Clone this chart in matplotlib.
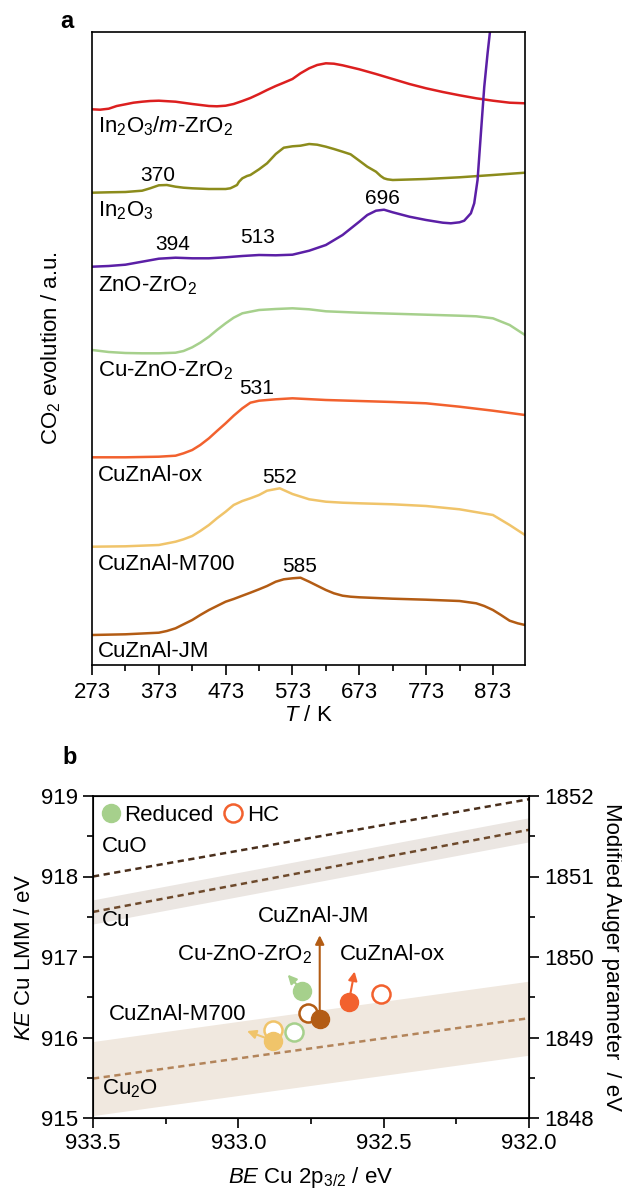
import matplotlib
matplotlib.use("Agg")
from matplotlib import pyplot as plt
from matplotlib.lines import Line2D
from matplotlib.ticker import MultipleLocator, FormatStrFormatter

plt.rcParams['font.family'] = ['Liberation Sans', 'DejaVu Sans']
plt.rcParams['mathtext.fontset'] = 'custom'
plt.rcParams['mathtext.rm'] = 'Liberation Sans'
plt.rcParams['mathtext.it'] = 'Liberation Sans:italic'
plt.rcParams['mathtext.bf'] = 'Liberation Sans:bold'
plt.rcParams['font.size'] = 16

# ---- panel a : CO2-TPD traces (T in K, signal in a.u., offset already included) ----
T_red = [273, 285, 298, 310, 323, 335, 348, 360, 373, 398, 423, 448, 460, 473, 485, 498, 510,
         523, 535, 548, 560, 573, 585, 598, 610, 623, 635, 648, 673, 698, 723, 748, 773, 798,
         823, 848, 873, 898, 921]
y_red = [555.7, 555.3, 556.3, 559, 560.7, 562.3, 563.3, 564, 564.3, 563.3, 561, 559, 558.7,
         559.3, 561, 564, 567, 571, 575, 579, 582.3, 586, 591.7, 596.7, 600, 601.7, 601.3,
         599.7, 595.7, 591, 586, 581, 576.7, 573, 569.7, 566.7, 564.3, 562.3, 561.7]

T_in = [273, 298, 323, 348, 360, 373, 385, 398, 410, 423, 448, 473, 480, 485, 490, 493, 498,
        505, 510, 523, 535, 548, 560, 573, 585, 598, 610, 623, 635, 648, 660, 673, 685, 698,
        705, 710, 715, 723, 773, 823, 873, 921]
y_in = [472.3, 472.7, 473, 474.3, 476.7, 479.7, 480, 478.3, 477.3, 476.7, 476, 476, 476.7,
        478.3, 480, 483.3, 486.7, 489, 490, 495.7, 501.7, 511, 517.3, 518.7, 519.3, 521, 520.3,
        518.3, 516, 513.3, 510.7, 504.3, 498.3, 493.3, 489, 486.7, 485.7, 485, 486, 487.7,
        490, 492.3]

T_zn = [273, 298, 323, 348, 373, 398, 423, 448, 473, 498, 523, 548, 573, 598, 623, 648, 673,
        685, 698, 710, 723, 748, 773, 798, 810, 823, 830, 840, 845, 850, 855, 860, 865, 870, 878]
y_zn = [398.3, 399, 400.3, 403.3, 406.3, 407.3, 406.7, 406.7, 407.7, 409, 410, 409.7, 410.3,
        414.3, 420, 430, 443.3, 450, 454.3, 455.3, 452.7, 448.3, 445, 442.3, 441.7, 442.7,
        444.3, 451.7, 461.7, 485, 531.7, 578, 611.7, 641.7, 720]

T_czz = [273, 298, 323, 348, 373, 398, 410, 423, 435, 448, 460, 473, 485, 498, 510, 523, 548,
         573, 598, 623, 673, 723, 773, 823, 848, 873, 898, 921]
y_czz = [315, 313, 312, 311.7, 311.7, 312.3, 314, 317.7, 322.3, 328.3, 335, 341.7, 347.3, 351.7,
         353.3, 355, 356, 356.7, 355.7, 353.7, 352.3, 351.3, 350.3, 349.3, 348.7, 346.7, 340, 330]

T_ox = [273, 323, 373, 398, 410, 423, 435, 448, 460, 473, 485, 498, 510, 523, 548, 573, 623,
        673, 723, 773, 823, 873, 921]
y_ox = [207.7, 207.7, 208.3, 209.3, 211.7, 215, 220, 226.7, 234, 241.7, 249.3, 256.7, 262.3,
        264.3, 265.7, 266.7, 265, 264, 263, 261.7, 258.3, 254.3, 250]

T_m7 = [273, 323, 373, 398, 410, 423, 435, 448, 460, 473, 485, 498, 510, 523, 535, 554, 573,
        598, 623, 648, 673, 723, 773, 823, 873, 898, 921]
y_m7 = [118.3, 118.7, 120, 123.3, 125.7, 129, 134, 140, 146.7, 153.3, 160, 164, 166.7, 170,
        174.3, 176.7, 171, 165.7, 163.3, 162.3, 161.7, 160.7, 159, 155.7, 150, 140, 130]

T_jm = [273, 323, 373, 385, 398, 410, 423, 435, 448, 460, 473, 485, 498, 510, 523, 535, 548,
        560, 573, 585, 598, 610, 623, 635, 648, 660, 673, 723, 773, 823, 848, 860, 873, 885,
        898, 910, 921]
y_jm = [30, 30.7, 32.3, 34, 36.7, 40.7, 45, 50, 55, 59, 63.3, 66, 69.3, 72.3, 75.7, 79, 83.3,
        85.7, 86.7, 87.3, 83.3, 79.3, 75, 71.7, 69.3, 68.3, 67.7, 66.3, 65.3, 64, 61.7, 59,
        55, 50, 44.3, 41.7, 40]

# ---- panel b : Wagner plot ----
be_red = [932.78, 932.72, 932.62, 932.88]      # Cu-ZnO-ZrO2, CuZnAl-JM, CuZnAl-ox, CuZnAl-M700
ke_red = [916.58, 916.23, 916.44, 915.96]
be_hc = [932.81, 932.76, 932.51, 932.88]
ke_hc = [916.07, 916.30, 916.54, 916.09]
tip_be = [932.83, 932.72, 932.60, 932.97]
tip_ke = [916.78, 917.27, 916.82, 916.08]
cat_b = ['Cu-ZnO-ZrO$_\\mathrm{2}$', 'CuZnAl-JM', 'CuZnAl-ox', 'CuZnAl-M700']
cols_b = ['#a6d08c', '#b35c14', '#f2612e', '#f0c46a']

ref_be = [933.5, 932.0]
cuo_ke = [918.0, 918.96]
cu_ke = [917.56, 918.58]
cu2o_ke = [915.49, 916.24]

fig = plt.figure(figsize=(6.22, 11.92), dpi=100)

# ---------------- panel a ----------------
ax = fig.add_axes([92/622, 1-665/1192, 433/622, 633/1192])
curves = [(T_red, y_red, '#dc1f1f'), (T_in, y_in, '#8c8c1c'), (T_zn, y_zn, '#5b1fa6'),
          (T_czz, y_czz, '#a6d08c'), (T_ox, y_ox, '#f2612e'), (T_m7, y_m7, '#f0c46a'),
          (T_jm, y_jm, '#b35c14')]
for t, y, c in curves:
    ax.plot(t, y, color=c, lw=1.8, solid_joinstyle='round')

ax.set_xlim(273, 921)
ax.set_ylim(0, 633)
ax.set_yticks([])
ax.set_xticks(range(273, 921, 100))
ax.set_xticks(range(323, 921, 100), minor=True)
ax.tick_params(axis='x', which='major', direction='out', length=7, width=1.2, pad=5, labelsize=16)
ax.tick_params(axis='x', which='minor', direction='out', length=4, width=1.2)
for s in ax.spines.values():
    s.set_linewidth(1.2)
ax.set_xlabel('$T$ / K', fontsize=16, labelpad=2)
ax.set_ylabel('CO$_\\mathrm{2}$ evolution / a.u.', fontsize=16)
ax.yaxis.set_label_coords(-0.067, 0.5)

names_a = ['In$_\\mathrm{2}$O$_\\mathrm{3}$/$m$-ZrO$_\\mathrm{2}$', 'In$_\\mathrm{2}$O$_\\mathrm{3}$',
           'ZnO-ZrO$_\\mathrm{2}$', 'Cu-ZnO-ZrO$_\\mathrm{2}$', 'CuZnAl-ox', 'CuZnAl-M700', 'CuZnAl-JM']
name_y = [532.3, 449, 373.3, 289, 184.3, 95, 7.7]
for n, yy in zip(names_a, name_y):
    ax.text(282, yy, n, fontsize=16, va='baseline', ha='left')

peak_T = [372, 394, 521, 707, 520, 554, 584]
peak_lab = ['370', '394', '513', '696', '531', '552', '585']
peak_y = [484, 415, 421.7, 461, 270.7, 182.3, 93.3]
for t, lab, yy in zip(peak_T, peak_lab, peak_y):
    ax.text(t, yy, lab, fontsize=15, ha='center', va='baseline')

fig.text(67/622, 1-22/1192, 'a', fontsize=17, fontweight='bold', ha='center', va='center')

# ---------------- panel b ----------------
bx = fig.add_axes([93/622, 1-1118/1192, 436/622, 322/1192])
bx.fill_between(ref_be, [v - 0.15 for v in cu_ke], [v + 0.15 for v in cu_ke],
                color='#ebe6e2', lw=0, zorder=0)
bx.fill_between(ref_be, [v - 0.46 for v in cu2o_ke], [v + 0.46 for v in cu2o_ke],
                color='#f0e8df', lw=0, zorder=0)
bx.plot(ref_be, cuo_ke, color='#4a2f1c', lw=1.8, ls=(0, (2.5, 1.8)), zorder=1)
bx.plot(ref_be, cu_ke, color='#6e4a2c', lw=1.8, ls=(0, (2.5, 1.8)), zorder=1)
bx.plot(ref_be, cu2o_ke, color='#b3845a', lw=1.8, ls=(0, (2.5, 1.8)), zorder=1)

for i in range(len(cat_b)):
    bx.annotate('', xy=(tip_be[i], tip_ke[i]), xytext=(be_red[i], ke_red[i]),
                arrowprops=dict(arrowstyle='-|>', color=cols_b[i], lw=1.5,
                                mutation_scale=13, shrinkA=0, shrinkB=0), zorder=2)
    bx.plot(be_hc[i], ke_hc[i], 'o', ms=13, mfc='white', mec=cols_b[i], mew=1.8, zorder=3)
    bx.plot(be_red[i], ke_red[i], 'o', ms=13, mfc=cols_b[i], mec=cols_b[i], mew=1, zorder=4)

lab_be = [932.98, 932.74, 932.47, 933.21]
lab_ke = [916.96, 917.44, 916.96, 916.22]
for n, x, y in zip(cat_b, lab_be, lab_ke):
    bx.text(x, y, n, fontsize=16, ha='center', va='baseline')

bx.text(933.47, 918.31, 'CuO', fontsize=16, ha='left', va='baseline')
bx.text(933.47, 917.38, 'Cu', fontsize=16, ha='left', va='baseline')
bx.text(933.47, 915.29, 'Cu$_\\mathrm{2}$O', fontsize=16, ha='left', va='baseline')

handles = [Line2D([], [], ls='', marker='o', ms=13, mfc='#a6d08c', mec='#a6d08c'),
           Line2D([], [], ls='', marker='o', ms=13, mfc='white', mec='#f2612e', mew=1.8)]
bx.legend(handles, ['Reduced', 'HC'], ncol=2, loc='upper left', frameon=False, fontsize=16,
          handlelength=0.8, handletextpad=0.2, columnspacing=0.5, borderaxespad=0.2,
          borderpad=0.2)

bx.set_xlim(933.5, 932.0)
bx.set_ylim(915, 919)
bx.xaxis.set_major_locator(MultipleLocator(0.5))
bx.xaxis.set_minor_locator(MultipleLocator(0.25))
bx.xaxis.set_major_formatter(FormatStrFormatter('%.1f'))
bx.yaxis.set_major_locator(MultipleLocator(1))
bx.yaxis.set_minor_locator(MultipleLocator(0.5))
bx.tick_params(which='major', direction='out', length=7, width=1.2, labelsize=16, pad=4)
bx.tick_params(which='minor', direction='out', length=4, width=1.2)
for s in bx.spines.values():
    s.set_linewidth(1.2)
bx.set_xlabel('$BE$ Cu 2p$_\\mathrm{3/2}$ / eV', fontsize=16, labelpad=8)
bx.set_ylabel('$KE$ Cu LMM / eV', fontsize=16, labelpad=4)

rx = bx.twinx()
rx.set_ylim(1848, 1852)
rx.yaxis.set_major_locator(MultipleLocator(1))
rx.yaxis.set_minor_locator(MultipleLocator(0.5))
rx.tick_params(which='major', direction='out', length=7, width=1.2, labelsize=16, pad=4)
rx.tick_params(which='minor', direction='out', length=4, width=1.2)
rx.set_ylabel('Modified Auger parameter  / eV', fontsize=16, rotation=270, labelpad=20)

fig.text(70/622, 1-757/1192, 'b', fontsize=17, fontweight='bold', ha='center', va='center')

fig.savefig('out.png', dpi=100)
